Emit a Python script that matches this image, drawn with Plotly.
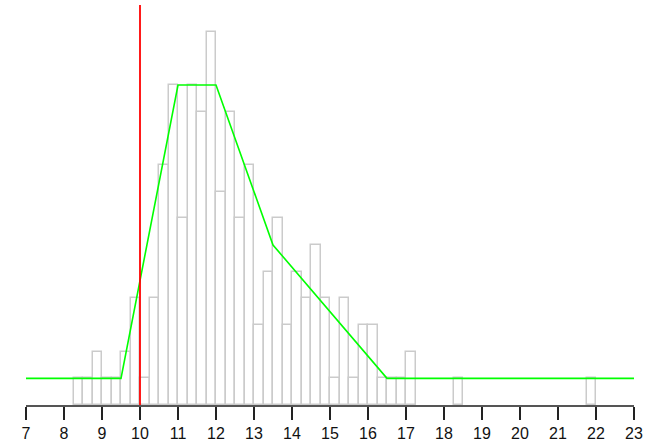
import plotly.graph_objects as go

# Histogram bins (left edges, width 0.25) and counts
bin_starts = [8.25, 8.5, 8.75, 9.0, 9.25, 9.5, 9.75, 10.0, 10.25, 10.5, 10.75,
              11.0, 11.25, 11.5, 11.75, 12.0, 12.25, 12.5, 12.75, 13.0, 13.25,
              13.5, 13.75, 14.0, 14.25, 14.5, 14.75, 15.0, 15.25, 15.5, 15.75,
              16.0, 16.25, 16.5, 16.75, 17.0, 18.25, 21.75]
counts = [1, 1, 2, 1, 1, 2, 4, 1, 4, 9, 12,
          7, 12, 11, 14, 8, 11, 7, 9, 3, 5,
          7, 3, 5, 4, 6, 4, 1, 4, 1, 3,
          3, 1, 1, 1, 2, 1, 1]
bin_width = 0.25

# Green membership-like curve
curve_x = [7, 9.5, 11, 12, 13.5, 16.5, 23]
curve_y = [1, 1, 12, 12, 6, 1, 1]

# Red reference line
ref_x = 10
y_max = 15

fig = go.Figure()
fig.add_trace(go.Bar(
    x=[s + bin_width / 2 for s in bin_starts], y=counts, width=bin_width,
    marker=dict(color="rgba(0,0,0,0)", line=dict(color="#cbcbcb", width=1.5)),
    hoverinfo="skip", showlegend=False,
))
fig.add_trace(go.Scatter(x=curve_x, y=curve_y, mode="lines",
                         line=dict(color="#00ff00", width=1.6), showlegend=False))
fig.add_trace(go.Scatter(x=[ref_x, ref_x], y=[0, y_max], mode="lines",
                         line=dict(color="#ff0000", width=1.8), showlegend=False))

fig.update_layout(
    width=647, height=443,
    margin=dict(l=26, r=13, t=5, b=38, autoexpand=False),
    paper_bgcolor="white", plot_bgcolor="white",
    bargap=0,
    font=dict(family="Liberation Sans, Arial, sans-serif", size=16, color="#111"),
    xaxis=dict(range=[7, 23], tickmode="linear", tick0=7, dtick=1,
               ticks="outside", ticklen=13, tickwidth=1.6, tickcolor="#222",
               showline=True, linecolor="#555", linewidth=2, automargin=False,
               showgrid=False, zeroline=False, fixedrange=True),
    yaxis=dict(range=[0, y_max], visible=False, showgrid=False, zeroline=False,
               automargin=False),
)

fig.write_html(
    "out.html",
    config={"displayModeBar": False},
    post_script="document.body.style.margin='0';document.body.style.padding='0';"
                "document.documentElement.style.overflow='hidden';",
)
